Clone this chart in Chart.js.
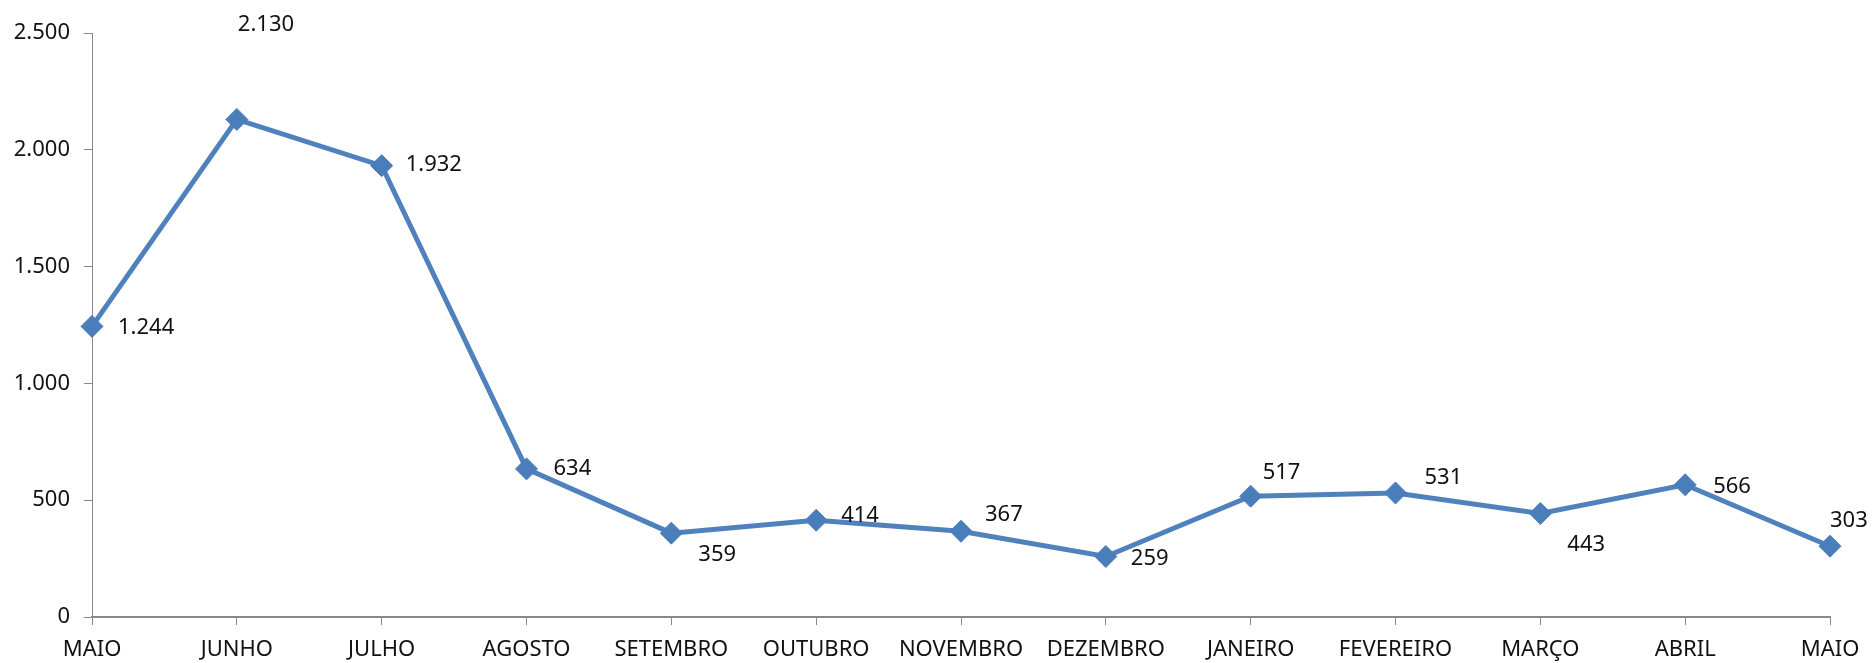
<!DOCTYPE html>
<html>
<head>
<meta charset="utf-8">
<script src="https://cdn.jsdelivr.net/npm/chart.js@4.4.1/dist/chart.umd.min.js"></script>
<style>
  html, body { margin: 0; padding: 0; background: #fff; }
  #wrap { width: 1872px; height: 663px; position: relative; }
</style>
</head>
<body>
<div id="wrap"><canvas id="chart"></canvas></div>
<script>
// ── Data ──────────────────────────────────────────────────────────────────
const months = ['MAIO', 'JUNHO', 'JULHO', 'AGOSTO', 'SETEMBRO', 'OUTUBRO', 'NOVEMBRO',
                'DEZEMBRO', 'JANEIRO', 'FEVEREIRO', 'MARÇO', 'ABRIL', 'MAIO'];
const values = [1244, 2130, 1932, 634, 359, 414, 367, 259, 517, 531, 443, 566, 303];
const yTicks = [0, 500, 1000, 1500, 2000, 2500];

// label offsets relative to each point (style only)
const labelOffsets = [[26, 1], [1, -95], [24, -1], [27, 0], [27, 22], [25, -5], [24, -17],
                      [25, 2], [12, -23], [29, -15], [27, 31], [28, 2], [0, -25]];

const FONT = 'Noto Sans';
const fmt = v => String(v).replace(/\B(?=(\d{3})+(?!\d))/g, '.');

// ── Value labels ──────────────────────────────────────────────────────────
const valueLabels = {
  id: 'valueLabels',
  afterDatasetsDraw(chart) {
    const ctx = chart.ctx;
    const meta = chart.getDatasetMeta(0);
    ctx.save();
    ctx.font = `22px "${FONT}"`;
    ctx.fillStyle = '#111';
    ctx.textAlign = 'left';
    ctx.textBaseline = 'middle';
    meta.data.forEach((pt, i) => {
      const [dx, dy] = labelOffsets[i];
      ctx.fillText(fmt(values[i]), pt.x + dx, pt.y + dy);
    });
    ctx.restore();
  }
};

new Chart(document.getElementById('chart'), {
  type: 'line',
  plugins: [valueLabels],
  data: {
    labels: months,
    datasets: [{
      data: values,
      borderColor: '#4F81BD', backgroundColor: '#4A7EBB',
      borderWidth: 5, tension: 0,
      pointStyle: 'rectRot', pointRadius: 11, pointHoverRadius: 11,
      pointBackgroundColor: '#4A7EBB', pointBorderColor: '#4A7EBB', pointBorderWidth: 1
    }]
  },
  options: {
    responsive: true, maintainAspectRatio: false, animation: false,
    layout: { padding: { top: 33, right: 42, left: 0, bottom: 0 } },
    plugins: { legend: { display: false }, tooltip: { enabled: false } },
    scales: {
      x: {
        offset: false,
        grid: { drawOnChartArea: false, color: '#888', tickLength: 8, lineWidth: 1 },
        border: { color: '#888', width: 2 },
        ticks: { color: '#111', font: { family: FONT, size: 22 }, padding: 12,
                 maxRotation: 0, autoSkip: false },
        afterFit: s => { s.height = 46; }
      },
      y: {
        min: 0, max: 2500,
        afterBuildTicks: s => { s.ticks = yTicks.map(v => ({ value: v })); },
        grid: { drawOnChartArea: false, color: '#888', tickLength: 8 },
        border: { color: '#888', width: 1 },
        ticks: { color: '#111', font: { family: FONT, size: 22 }, padding: 14,
                 callback: v => fmt(v) },
        afterFit: s => { s.width = 92; }
      }
    }
  }
});
</script>
</body>
</html>
